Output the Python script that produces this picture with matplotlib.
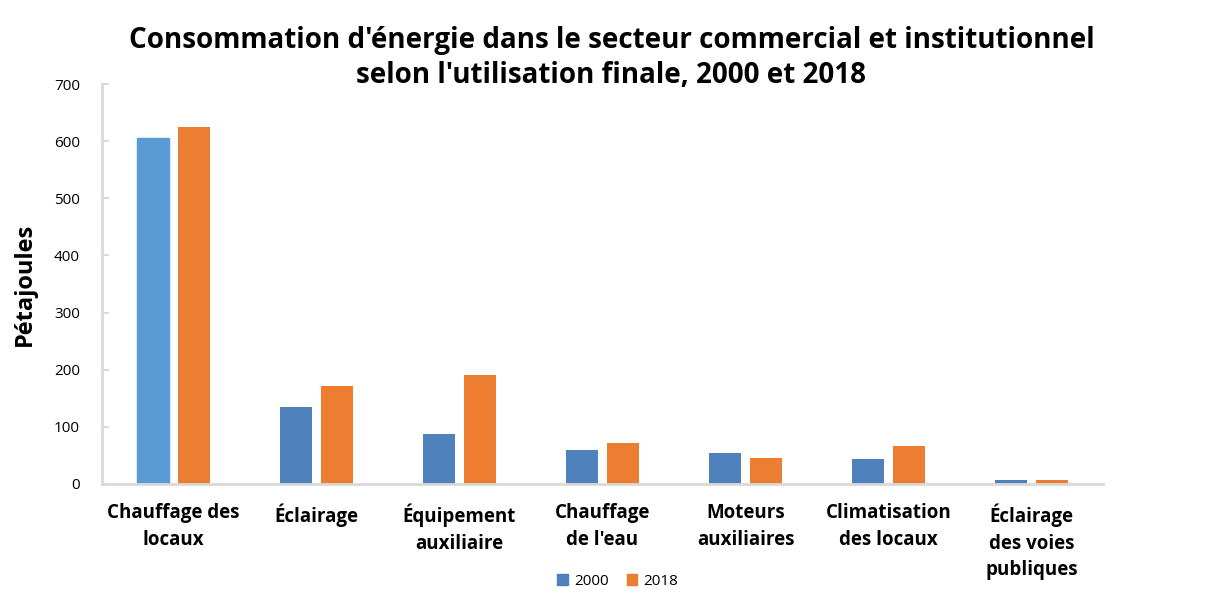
import numpy as np
import matplotlib
matplotlib.use('Agg')
import matplotlib.pyplot as plt
from matplotlib.patches import Patch

plt.rcParams['font.family'] = ['Open Sans', 'DejaVu Sans']

# données (pétajoules)
categories = ['Chauffage des\nlocaux', 'Éclairage', 'Équipement\nauxiliaire', 'Chauffage\nde l\'eau',
              'Moteurs\nauxiliaires', 'Climatisation\ndes locaux', 'Éclairage\ndes voies\npubliques']
val_2000 = [605, 135, 87, 59, 54, 44, 7]
val_2018 = [625, 171, 191, 72, 45, 66, 7]

blue = '#4F81BD'
orange = '#ED7D31'
grey = '#D9D9D9'

fig = plt.figure(figsize=(12.23, 6.12), dpi=100)
ax = fig.add_axes([0.0834, 0.2092, 0.8185, 0.6535])

x = np.arange(len(categories))
w = 0.224
off = (w + 0.063) / 2
b1 = ax.bar(x - off, val_2000, w, color=blue, label='2000')
b2 = ax.bar(x + off, val_2018, w, color=orange, label='2018')
b1[0].set_color('#5B9BD5')

ax.set_xlim(-0.5, len(categories) - 0.5)
ax.set_ylim(0, 700)
ax.set_yticks(range(0, 701, 100))
ax.set_xticks(x)
ax.set_xticklabels(categories, fontsize=13.5, fontweight='bold', linespacing=1.45)
ax.tick_params(axis='x', length=0, pad=14)
ax.tick_params(axis='y', labelsize=11, direction='in', length=5, color=grey, width=1.5, pad=16)

for s in ['top', 'right']:
    ax.spines[s].set_visible(False)
for s in ['left', 'bottom']:
    ax.spines[s].set_color(grey)
    ax.spines[s].set_linewidth(2)

ax.set_ylabel('Pétajoules', fontsize=17, fontweight='bold', labelpad=12)

fig.suptitle("Consommation d'énergie dans le secteur commercial et institutionnel\nselon l'utilisation finale, 2000 et 2018",
             fontsize=20, fontweight='bold', y=0.958, x=0.5, linespacing=1.3)

handles = [Patch(color=blue, label='2000'), Patch(color=orange, label='2018')]
fig.legend(handles=handles, loc='center', bbox_to_anchor=(0.505, 0.05), ncol=2, frameon=False,
           fontsize=11, handlelength=0.7, handleheight=0.7, handletextpad=0.4, columnspacing=1.2)

fig.savefig('out.png', dpi=100)
